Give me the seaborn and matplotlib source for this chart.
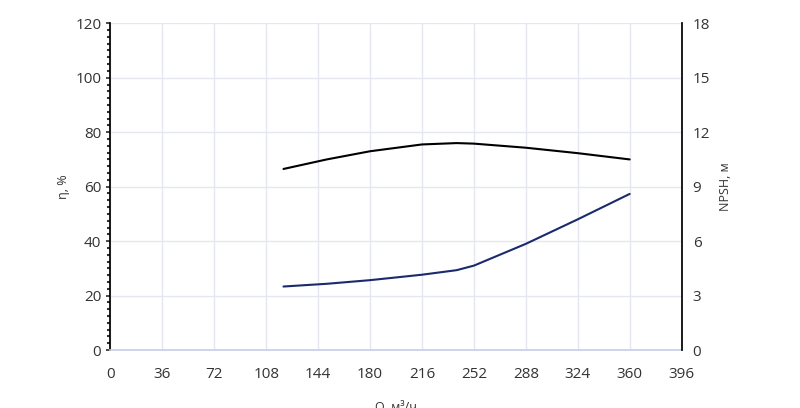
import matplotlib
matplotlib.use("Agg")
import matplotlib.pyplot as plt
import seaborn as sns
import numpy as np
from matplotlib.ticker import MultipleLocator

sns.set_theme(style="white")
plt.rcParams['font.family'] = ['Open Sans', 'DejaVu Sans']

q_eff = [120, 150, 180, 216, 240, 252, 288, 324, 360]
eff = [66.5, 70.0, 73.0, 75.5, 76.0, 75.8, 74.3, 72.3, 70.0]
q_npsh = [120, 150, 180, 216, 240, 252, 288, 324, 360]
npsh = [3.5, 3.65, 3.85, 4.15, 4.4, 4.65, 5.85, 7.2, 8.6]

fig, ax = plt.subplots(figsize=(8, 4.08), dpi=100)
fig.subplots_adjust(left=0.138, right=0.852, top=0.943, bottom=0.142)
sns.lineplot(x=q_eff, y=eff, ax=ax, color="black", linewidth=1.5)
ax2 = ax.twinx()
sns.lineplot(x=q_npsh, y=npsh, ax=ax2, color="#1a2a6c", linewidth=1.5)

ax.set_xlim(0, 396); ax.set_ylim(0, 120)
ax2.set_ylim(0, 18)
ax.set_xticks(np.arange(0, 397, 36))
ax.set_yticks(np.arange(0, 121, 20))
ax2.set_yticks(np.arange(0, 19, 3))
ax.yaxis.set_minor_locator(MultipleLocator(2.5))
ax.grid(True, color="#e4e6f0", linewidth=1)
for s in ["top", "right"]:
    ax.spines[s].set_visible(False)
ax2.spines["top"].set_visible(False)
ax2.spines["left"].set_visible(False)
ax2.spines["bottom"].set_visible(False)
ax.spines["left"].set_color("black")
ax.spines["bottom"].set_color("#c8d0ea")
ax2.spines["right"].set_color("black")
ax.tick_params(axis="y", which="minor", left=True, length=2, width=1.5, color="#333")
ax.tick_params(axis="y", which="major", left=True, length=3, color="#333")
ax.tick_params(axis="x", pad=6)
ax2.tick_params(axis="y", length=0, pad=8)
ax.tick_params(labelsize=11, labelcolor="#333")
ax2.tick_params(labelsize=11, labelcolor="#333")
ax.set_xlabel("Q, м³/ч", fontsize=9, color="#333", labelpad=14)
ax.set_ylabel("η, %", fontsize=9, color="#333")
ax2.set_ylabel("NPSH, м", fontsize=9, color="#333", labelpad=6)
fig.savefig("out.png")
